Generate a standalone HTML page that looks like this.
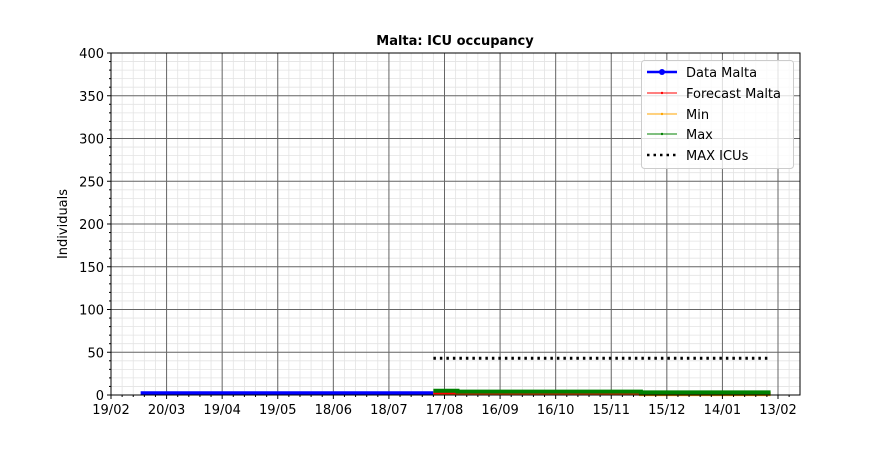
<!DOCTYPE html>
<html><head><meta charset="utf-8"><style>
html,body{margin:0;padding:0;background:#fff;}
svg text{font-family:"DejaVu Sans","Liberation Sans",sans-serif;}
</style></head><body>
<svg id="chart" width="888" height="444" xmlns="http://www.w3.org/2000/svg">
<rect width="888" height="444" fill="#fff"/>
<g id="grid"></g>
<g id="series"></g>
<rect x="111" y="53" width="689" height="342" fill="none" stroke="#000" stroke-width="1"/>
<g id="axes"></g>
<text x="455" y="45" text-anchor="middle" font-size="13" font-weight="bold">Malta: ICU occupancy</text>
<text transform="translate(67,224) rotate(-90)" text-anchor="middle" font-size="13">Individuals</text>
<g>
<rect x="641.5" y="60.5" width="152" height="108" rx="3" fill="#fff" fill-opacity="0.8" stroke="#ccc"/>
<g><line x1="647" y1="72" x2="677" y2="72" stroke="#0000ff" stroke-width="2.5"/><circle cx="662" cy="72" r="3" fill="#0000ff"/><text x="686" y="77" font-size="13">Data Malta</text></g>
<g><line x1="647" y1="93" x2="677" y2="93" stroke="#ff0000" stroke-width="1"/><circle cx="662" cy="93" r="1.2" fill="#ff0000"/><text x="686" y="98" font-size="13">Forecast Malta</text></g>
<g><line x1="647" y1="114" x2="677" y2="114" stroke="#ffa500" stroke-width="1"/><circle cx="662" cy="114" r="1.2" fill="#ffa500"/><text x="686" y="119" font-size="13">Min</text></g>
<g><line x1="647" y1="134" x2="677" y2="134" stroke="#008000" stroke-width="1"/><circle cx="662" cy="134" r="1.2" fill="#008000"/><text x="686" y="139" font-size="13">Max</text></g>
<g><line x1="647" y1="155" x2="677" y2="155" stroke="#000" stroke-width="2.5" stroke-dasharray="2.5,4"/><text x="686" y="160" font-size="13">MAX ICUs</text></g>
</g>
</svg>
<script>
const xTickLabels=["19/02","20/03","19/04","19/05","18/06","18/07","17/08","16/09","16/10","15/11","15/12","14/01","13/02"];
const yTicks=[0,50,100,150,200,250,300,350,400];
const dataDays=[16,30,45,60,75,90,105,120,135,150,165,174];
const dataValues=[2,2,2,2,2,2,2,2,2,2,2,2];
const forecastDays=[174,187,286,356];
const forecastValues=[2,2,2];
const minValues=[2,2,1];
const maxValues=[5,4,3];
const maxIcuDays=[174,356];
const maxIcuValue=43;

const NS="http://www.w3.org/2000/svg";
const L=111,R=800,T=53,B=395;
const pxDay=(778-111)/360;
const x=d=>L+d*pxDay;
const y=v=>B-(v/400)*(B-T);
const grid=document.getElementById('grid'),axes=document.getElementById('axes'),ser=document.getElementById('series');
function mk(tag,attrs,parent){const e=document.createElementNS(NS,tag);for(const k in attrs)e.setAttribute(k,attrs[k]);parent.appendChild(e);return e;}
for(let d=0;d*pxDay<=R-L;d+=6){const l=mk('line',{x1:x(d),x2:x(d),y1:T,y2:B,stroke:'#e3e3e3','stroke-width':0.8},grid);

}
for(let v=0;v<=400;v+=10){const l=mk('line',{x1:L,x2:R,y1:y(v),y2:y(v),stroke:'#e3e3e3','stroke-width':0.8},grid);

}
xTickLabels.forEach((t,i)=>{const d=i*30;
const g=mk('line',{x1:x(d),x2:x(d),y1:T,y2:B,stroke:'#666','stroke-width':1},grid);


mk('line',{x1:x(d),x2:x(d),y1:B,y2:B+4,stroke:'#000'},axes);
const tx=mk('text',{x:x(d),y:B+19,'text-anchor':'middle','font-size':13},axes);tx.textContent=t;

});
for(let d=6;d*pxDay<=R-L;d+=6){if(d%30)mk('line',{x1:x(d),x2:x(d),y1:B,y2:B+2,stroke:'#000'},axes);}
yTicks.forEach(v=>{const g=mk('line',{x1:L,x2:R,y1:y(v),y2:y(v),stroke:'#666','stroke-width':1},grid);


mk('line',{x1:L-4,x2:L,y1:y(v),y2:y(v),stroke:'#000'},axes);
const tx=mk('text',{x:L-7,y:y(v)+5,'text-anchor':'end','font-size':13},axes);tx.textContent=v;

});
for(let v=10;v<400;v+=10){if(v%50)mk('line',{x1:L-2,x2:L,y1:y(v),y2:y(v),stroke:'#000'},axes);}
function step(days,vals,color,w,name){let d='';for(let i=0;i<vals.length;i++){const x0=x(days[i]),x1=x(days[i+1]);d+=(i?'L':'M')+x0+','+y(vals[i])+'L'+x1+','+y(vals[i]);}
const p=mk('path',{d:d,fill:'none',stroke:color,'stroke-width':w},ser);

}
let dd='';dataDays.forEach((dy,i)=>{dd+=(i?'L':'M')+x(dy)+','+y(dataValues[i]);});
const dp=mk('path',{d:dd,fill:'none',stroke:'#0000ff','stroke-width':4},ser);


step(forecastDays,minValues,'#ffa500',4,'min-line');
step(forecastDays,forecastValues,'#ff0000',2,'forecast-line');
step(forecastDays,maxValues,'#008000',4,'max-line');
const mi=mk('line',{x1:x(maxIcuDays[0]),x2:x(maxIcuDays[1]),y1:y(maxIcuValue),y2:y(maxIcuValue),stroke:'#000','stroke-width':3,'stroke-dasharray':'2.5,4'},ser);


</script>
</body></html>
